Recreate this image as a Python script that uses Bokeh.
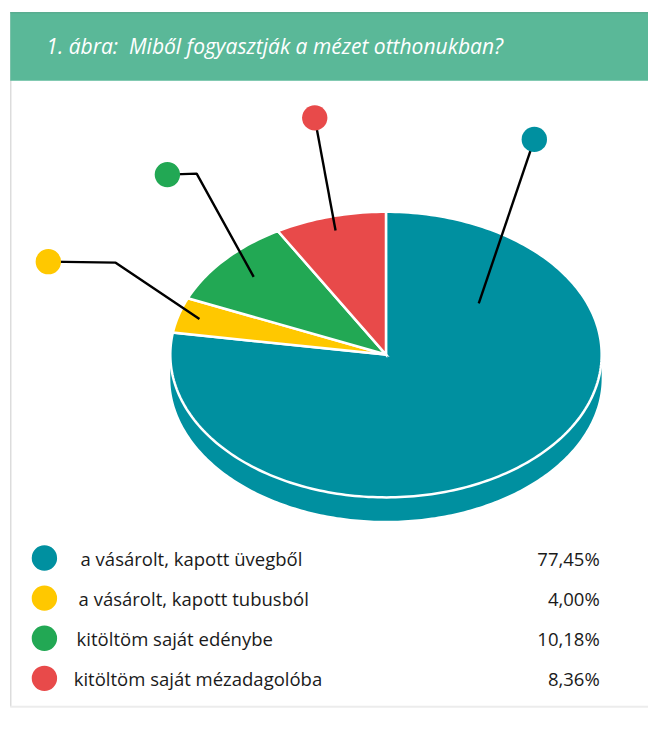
import numpy as np
from bokeh.plotting import figure
from bokeh.models import Range1d
from bokeh.core.properties import value
from bokeh.embed import file_html
from bokeh.resources import INLINE

# ---- data ----
title = "1. ábra:\u00a0 Miből fogyasztják a mézet otthonukban?"
categories = ["a vásárolt, kapott üvegből", "a vásárolt, kapott tubusból",
              "kitöltöm saját edénybe", "kitöltöm saját mézadagolóba"]
shares = [77.45, 4.00, 10.18, 8.36]
pct_labels = ["77,45%", "4,00%", "10,18%", "8,36%"]
colors = ["#0090a0", "#ffc800", "#22a854", "#e84a4a"]

# ---- layout (coordinate frame of the 664x731 reference) ----
W, H = 648, 715
S = W / 664.0
p = figure(width=W, height=H, x_range=Range1d(0, 664), y_range=Range1d(731, 0),
           output_backend="svg", toolbar_location=None, min_border=0,
           x_axis_location=None, y_axis_location=None)
p.grid.visible = False
p.outline_line_color = None
p.background_fill_color = "white"
p.border_fill_color = "white"

def px(v):
    return f"{v * S:.1f}px"

# card
p.quad(left=[10], right=[664], top=[12], bottom=[722], fill_color="white", line_color=None)
p.segment(x0=[10.5], y0=[12], x1=[10.5], y1=[722], line_color="#dcdcdc", line_width=1.5)
p.segment(x0=[10], y0=[722], x1=[664], y1=[722], line_color="#ececec", line_width=2)
p.quad(left=[10], right=[664], top=[12], bottom=[82], fill_color="#5ab898", line_color=None)
p.segment(x0=[10], y0=[12.5], x1=[664], y1=[12.5], line_color="#4fa587", line_width=1)
p.text(x=[47], y=[47], text=[title], text_color="white", text_font=value("Open Sans"),
       text_font_style="italic", text_font_size=px(21.5), text_baseline="middle")

# pie geometry
cx, cy, rx, ry, depth = 395.0, 362.0, 221.0, 146.0, 24.0

def ell(t, dy=0.0):
    return cx + rx * np.sin(t), cy - ry * np.cos(t) + dy

# side (front half)
t = np.linspace(np.pi / 2, 3 * np.pi / 2, 200)
tx, ty = ell(t)
bx, by = ell(t[::-1], depth)
p.patch(np.concatenate([tx, bx]), np.concatenate([ty, by]), fill_color=colors[0], line_color=None)

total = sum(shares)
fr = np.cumsum([0] + shares) / total
xs, ys = [], []
for i in range(len(shares)):
    a0, a1 = fr[i] * 2 * np.pi, fr[i + 1] * 2 * np.pi
    tt = np.linspace(a0, a1, max(8, int(300 * (a1 - a0) / (2 * np.pi))))
    ex, ey = ell(tt)
    xs.append(np.concatenate([[cx], ex, [cx]]))
    ys.append(np.concatenate([[cy], ey, [cy]]))
p.patches(xs, ys, fill_color=colors, line_color="white", line_width=2.5, line_join="miter")

# leader lines
anchor_frac = [0.18, 0.5, 0.5, 0.5]   # position of anchor within slice
anchor_rad = [0.56, 0.9, 0.82, 0.9]
dots = [(547, 142), (49, 267), (171, 178), (322, 120)]
elbows = [None, (118, 268), (201, 177), None]
lx, ly = [], []
for i in range(len(shares)):
    a = (fr[i] + anchor_frac[i] * (fr[i + 1] - fr[i])) * 2 * np.pi
    ax_ = cx + rx * anchor_rad[i] * np.sin(a)
    ay_ = cy - ry * anchor_rad[i] * np.cos(a)
    px_, py_ = [ax_], [ay_]
    if elbows[i]:
        px_.append(elbows[i][0]); py_.append(elbows[i][1])
    px_.append(dots[i][0]); py_.append(dots[i][1])
    lx.append(px_); ly.append(py_)
p.multi_line(lx, ly, line_color="black", line_width=2.4)
p.scatter([d[0] for d in dots], [d[1] for d in dots], size=26 * S, fill_color=colors, line_color=None)

# legend
leg_y = [570, 611, 652, 693]
leg_tx = [82, 80, 78, 75]
p.scatter([45] * 4, leg_y, size=26 * S, fill_color=colors, line_color=None)
p.text(x=leg_tx, y=leg_y, text=categories, text_color="#1a1a1a", text_font=value("Open Sans"),
       text_font_size=px(19), text_baseline="middle")
p.text(x=[614] * 4, y=leg_y, text=pct_labels, text_color="#1a1a1a", text_font=value("Open Sans"),
       text_font_size=px(19), text_baseline="middle", text_align="right")

open("out.html", "w").write(file_html(p, INLINE))
